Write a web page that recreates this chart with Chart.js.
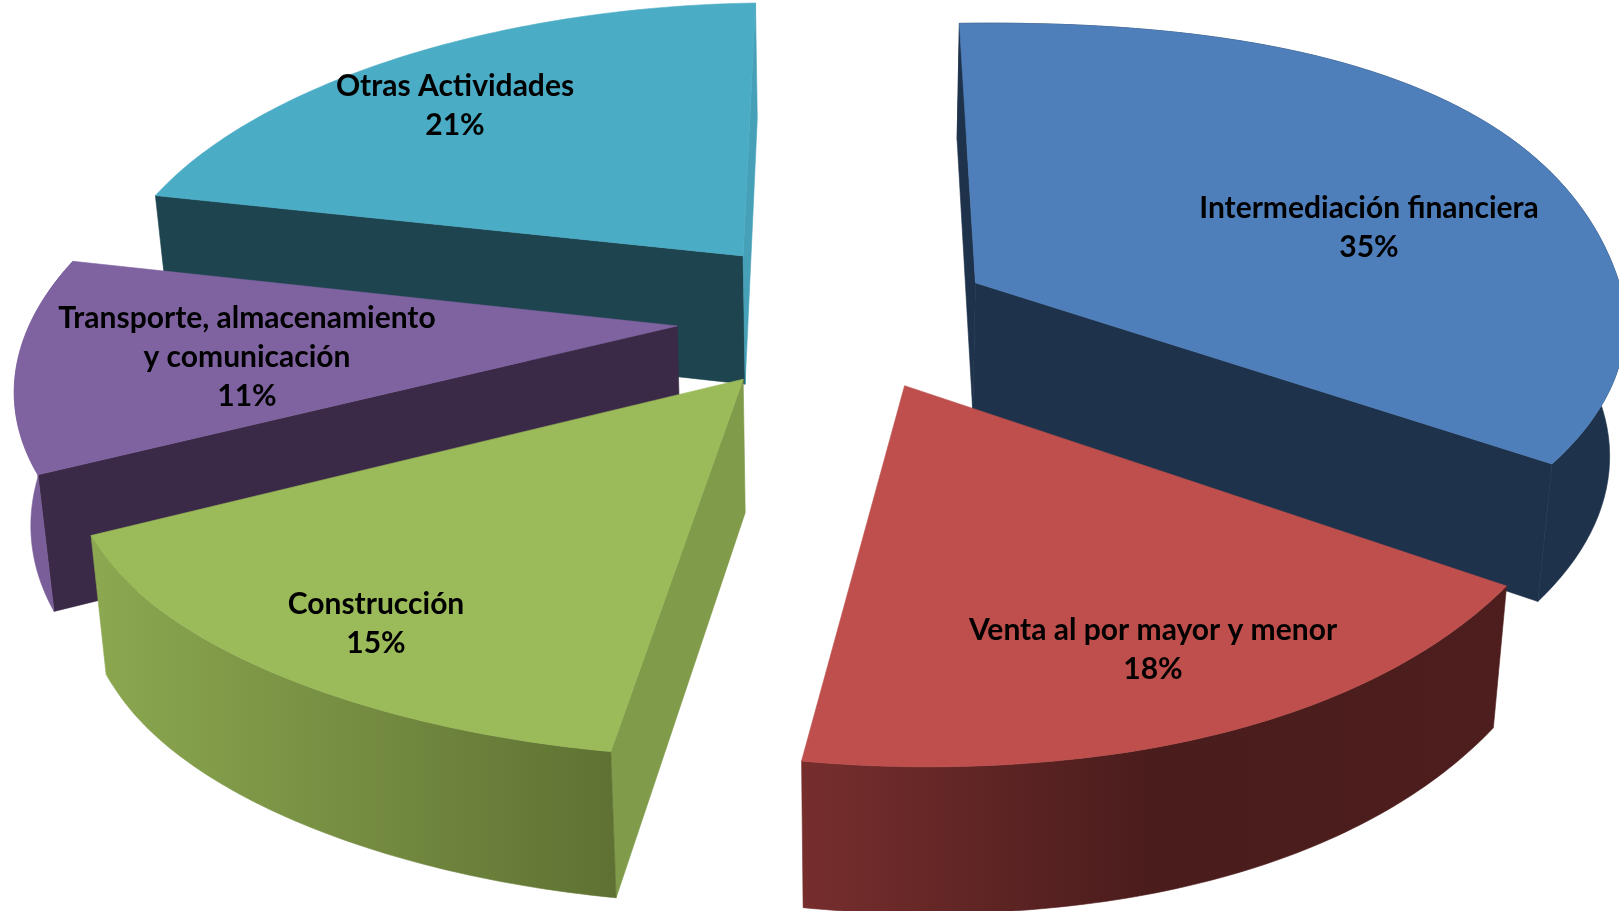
<!DOCTYPE html>
<html>
<head>
<meta charset="utf-8">
<script src="https://cdn.jsdelivr.net/npm/chart.js@4"></script>
<style>
  html, body { margin: 0; padding: 0; background: #fff; }
  canvas { display: block; }
</style>
</head>
<body>
<canvas id="graficoActividades" width="1619" height="911"></canvas>
<script>
// datos
const categorias = ['Intermediación financiera', 'Venta al por mayor y menor', 'Construcción', ['Transporte, almacenamiento', 'y comunicación'], 'Otras Actividades'];
const porcentajes = [35, 18, 15, 11, 21];
const colores = ['#4F7FBB', '#BE4F4C', '#9BBA59', '#7F63A1', '#4BACC6'];

// perspectiva de la torta
const vista = { cx: 845, cy: 316, a: 650, b: 305, k: 0.1425, alto: 131, altoFrente: 13, fuga: 0.02, corrimiento: 34, inclinacion: -0.015 };
const ordenDibujo = [4, 3, 2, 0, 1];
const caras = [
    { inicio: '#1E324C', fin: '#1E324C', borde: ['#1E324C', '#1E324C'], abombado: 0.045 },
    { borde: ['#762E2D', '#4A1C1C', '#4D1E1D'] },
    { inicio: '#809B4A', borde: ['#8CA850', '#5F7233'] },
    { inicio: '#3B2A47', borde: ['#7A5E9A', '#7A5E9A'] },
    { inicio: '#1D444F', fin: '#45A0B8' }
];
const posTextos = [[1369, 208], [1153, 630], [376, 604], [247, 318], [455, 86]];

function proyectar(px, py, z) {
    const f = 1 / (1 - vista.k * py);
    // el frente de la torta se corre un poco a la derecha
    const r = Math.min(1, Math.max(0, (py - 0.7) / 0.5));
    const x = vista.a * px * f * (1 - vista.fuga * z) + vista.corrimiento * r * r;
    return {
        x: vista.cx + x,
        y: vista.cy + vista.b * py * f + z * (vista.alto + vista.altoFrente * py) + vista.inclinacion * x
    };
}

function puntosArco(arco, abombado) {
    const { startAngle, endAngle, outerRadius: R } = arco.getProps(['startAngle', 'endAngle', 'outerRadius'], true);
    const medio = (startAngle + endAngle) / 2;
    const off = (arco.options.offset || 0) / R;
    const ox = Math.cos(medio) * off, oy = Math.sin(medio) * off;
    const borde = [];
    const pasos = 80;
    for (let i = 0; i <= pasos; i++) {
        const s = i / pasos;
        const t = startAngle + (endAngle - startAngle) * s;
        const onda = Math.sin(Math.PI * Math.min(s / 0.72, 1));
        const radio = 1 + (abombado || 0) * onda * onda;
        borde.push([ox + radio * Math.cos(t), oy + radio * Math.sin(t)]);
    }
    return { centro: [ox, oy], borde };
}

function poligono(ctx, pts, relleno) {
    ctx.beginPath();
    pts.forEach((p, i) => i ? ctx.lineTo(p.x, p.y) : ctx.moveTo(p.x, p.y));
    ctx.closePath();
    ctx.fillStyle = relleno;
    ctx.strokeStyle = relleno;
    ctx.lineWidth = 0.6;
    ctx.fill();
    ctx.stroke();
}

const torta3d = {
    id: 'torta3d',
    beforeDatasetDraw(chart, args) {
        const ctx = chart.ctx;
        const arcos = chart.getDatasetMeta(args.index).data;
        ordenDibujo.forEach(i => {
            const cara = caras[i];
            const { centro, borde } = puntosArco(arcos[i], cara.abombado);
            const pared = (p, color) => poligono(ctx, [
                proyectar(centro[0], centro[1], 0), proyectar(p[0], p[1], 0),
                proyectar(p[0], p[1], 1), proyectar(centro[0], centro[1], 1)
            ], color);
            if (cara.inicio) pared(borde[0], cara.inicio);
            if (cara.fin) pared(borde[borde.length - 1], cara.fin);
            if (cara.borde) {
                const arriba = borde.map(p => proyectar(p[0], p[1], 0));
                const abajo = borde.map(p => proyectar(p[0], p[1], 1)).reverse();
                const xs = arriba.map(p => p.x);
                const grad = ctx.createLinearGradient(Math.min(...xs), 0, Math.max(...xs), 0);
                cara.borde.forEach((c, n) => grad.addColorStop(n / (cara.borde.length - 1), c));
                poligono(ctx, arriba.concat(abajo), grad);
            }
            const tapa = [proyectar(centro[0], centro[1], 0)].concat(borde.map(p => proyectar(p[0], p[1], 0)));
            poligono(ctx, tapa, colores[i]);
        });
        return false;
    },
    afterDraw(chart) {
        const ctx = chart.ctx;
        ctx.save();
        ctx.font = 'bold 30px Lato';
        ctx.fillStyle = '#000';
        ctx.textAlign = 'center';
        ctx.textBaseline = 'middle';
        categorias.forEach((cat, i) => {
            const lineas = [].concat(cat, porcentajes[i] + '%');
            lineas.forEach((l, n) => ctx.fillText(l, posTextos[i][0], posTextos[i][1] + n * 39));
        });
        ctx.restore();
    }
};

new Chart(document.getElementById('graficoActividades'), {
    type: 'pie',
    data: {
        labels: categorias,
        datasets: [{
            data: porcentajes,
            backgroundColor: colores,
            borderWidth: 0,
            offset: [92, 97, 100, 104, 106]
        }]
    },
    options: {
        responsive: false,
        animation: false,
        plugins: { legend: { display: false }, tooltip: { enabled: false } }
    },
    plugins: [torta3d]
});
</script>
</body>
</html>
